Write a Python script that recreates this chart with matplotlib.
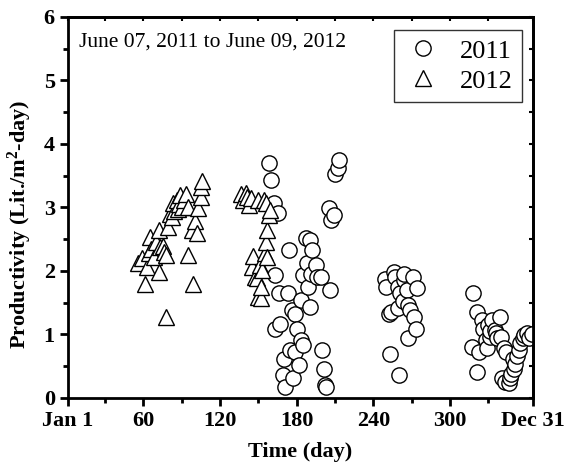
import matplotlib
matplotlib.use("Agg")
import matplotlib.pyplot as plt
from matplotlib.ticker import MultipleLocator, FixedLocator, NullFormatter

plt.rcParams['font.family'] = ['Liberation Serif', 'DejaVu Serif']
plt.rcParams['mathtext.fontset'] = 'custom'
plt.rcParams['mathtext.rm'] = 'Liberation Serif:bold'
plt.rcParams['mathtext.it'] = 'Liberation Serif:bold'
plt.rcParams['mathtext.bf'] = 'Liberation Serif:bold'

# 2012 series (triangles): day of year, productivity
day_2012 = [56, 59, 61, 63, 64, 65, 66, 68, 70, 72, 72, 73, 75, 76, 78, 78, 79, 81, 82,
            83, 84, 86, 87, 88, 89, 90, 92, 93, 95, 95, 98, 99, 100, 102, 103, 105, 105, 106,
            136, 138, 140, 141, 143, 144, 145, 146, 147, 149, 150, 150, 151, 152, 152, 153,
            154, 155, 156, 156, 157, 157, 158, 159]
val_2012 = [2.12, 2.20, 1.80, 2.07, 2.28, 2.54, 2.35, 2.22, 2.45, 1.99, 2.65, 2.38, 2.40,
            2.30, 2.25, 1.28, 2.70, 2.90, 2.85, 3.07, 2.95, 3.12, 2.98, 3.05, 3.20, 3.00,
            3.12, 3.22, 3.00, 2.25, 2.65, 1.80, 2.78, 2.60, 2.99, 3.17, 3.33, 3.41,
            3.22, 3.12, 3.23, 3.17, 3.04, 3.15, 2.07, 2.23, 1.91, 1.89, 3.12, 1.59, 2.09,
            1.57, 1.75, 2.02, 3.12, 2.28, 2.46, 3.07, 2.65, 2.22, 2.88, 2.96]

# 2011 series (circles): day of year, productivity
day_2011 = [158, 160, 162, 163, 163, 165, 166, 167, 169, 170, 171, 173, 174, 175, 176, 177,
            179, 179, 180, 182, 183, 183, 185, 185, 187, 188, 189, 190, 190, 191, 192, 195,
            196, 199, 200, 201, 202, 203, 205, 206, 207, 209, 210, 212, 213,
            249, 250, 252, 253, 254, 256, 257, 259, 259, 260, 261, 263, 264, 264, 266, 267,
            267, 269, 271, 272, 273, 274,
            317, 318, 321, 321, 323, 325, 326, 328, 329, 330, 331, 331, 333, 335, 336, 337,
            339, 340, 342, 344,
            341, 343, 346, 347, 348, 349, 350, 351, 352, 354, 355, 357, 358, 360, 362, 364]
val_2011 = [3.70, 3.44, 3.07, 1.94, 1.09, 2.91, 1.65, 1.17, 0.36, 0.62, 0.17, 1.65, 2.33,
            0.75, 1.38, 0.31, 1.33, 0.73, 1.09, 0.52, 1.54, 0.91, 0.83, 1.94, 2.52, 2.12,
            1.75, 2.49, 1.44, 1.95, 2.33, 2.09, 1.91, 1.91, 0.75, 0.46, 0.20, 0.17, 2.99,
            1.70, 2.81, 2.88, 3.52, 3.62, 3.75,
            1.88, 1.75, 1.33, 0.70, 1.36, 1.99, 1.91, 1.41, 1.75, 0.36, 1.65, 1.52, 1.86,
            1.95, 1.70, 1.46, 0.94, 1.38, 1.91, 1.28, 1.09, 1.73,
            0.81, 1.65, 1.36, 0.41, 0.73, 1.23, 1.09, 0.91, 0.78, 1.15, 0.96, 1.05, 1.23,
            1.07, 1.02, 0.94, 1.28, 0.96, 0.78, 0.73,
            0.31, 0.25, 0.23, 0.31, 0.38, 0.62, 0.46, 0.54, 0.66, 0.75, 0.86, 0.94, 0.99,
            1.02, 0.95, 1.00]

x_ticks = [1, 60, 120, 180, 240, 300, 365]
x_ticklabels = ['Jan 1', '60', '120', '180', '240', '300', 'Dec 31']
x_minor = [30, 90, 150, 210, 270, 330]

fig = plt.figure(figsize=(5.69, 4.71), dpi=100)
ax = fig.add_axes([0.1195, 0.155, 0.8175, 0.809])

ax.plot(day_2011, val_2011, linestyle='none', marker='o', ms=11, mfc='white',
        mec='black', mew=1.0, label='2011')
ax.plot(day_2012, val_2012, linestyle='none', marker='^', ms=12, mfc='white',
        mec='black', mew=1.0, label='2012')

ax.set_xlim(1, 365)
ax.set_ylim(0, 6)
ax.xaxis.set_major_locator(FixedLocator(x_ticks))
ax.set_xticklabels(x_ticklabels)
ax.xaxis.set_minor_locator(FixedLocator(x_minor))
ax.yaxis.set_major_locator(MultipleLocator(1))
ax.yaxis.set_minor_locator(MultipleLocator(0.5))

for s in ax.spines.values():
    s.set_linewidth(2)
ax.tick_params(which='major', direction='out', length=6, width=2, labelsize=16)
ax.tick_params(which='minor', direction='out', length=3.5, width=2)
for lab in ax.get_xticklabels() + ax.get_yticklabels():
    lab.set_fontweight('bold')

# small inward ticks on top and right
top = ax.secondary_xaxis('top')
top.xaxis.set_major_locator(FixedLocator(x_ticks + x_minor))
top.xaxis.set_major_formatter(NullFormatter())
top.tick_params(direction='in', length=3, width=1.5)
right = ax.secondary_yaxis('right')
right.yaxis.set_major_locator(MultipleLocator(0.5))
right.yaxis.set_major_formatter(NullFormatter())
right.tick_params(direction='in', length=3, width=1.5)
top.spines['top'].set_linewidth(2)
right.spines['right'].set_linewidth(2)

ax.set_xlabel('Time (day)', fontsize=16, fontweight='bold', labelpad=8)
ax.set_ylabel('Productivity (Lit./m$^{2}$-day)', fontsize=16, fontweight='bold')
ax.yaxis.set_label_coords(-0.073, 0.455)

ax.text(0.024, 0.935, 'June 07, 2011 to June 09, 2012', transform=ax.transAxes,
        fontsize=15.5, va='center', ha='left')

leg = ax.legend(loc='upper right', fontsize=19, frameon=True, fancybox=False,
                edgecolor='black', borderpad=0.35, handlelength=1.5, handletextpad=0.65,
                labelspacing=0.25, borderaxespad=0, bbox_to_anchor=(0.976, 0.966))
leg.get_frame().set_linewidth(1.0)

fig.savefig('out.png', dpi=100)
